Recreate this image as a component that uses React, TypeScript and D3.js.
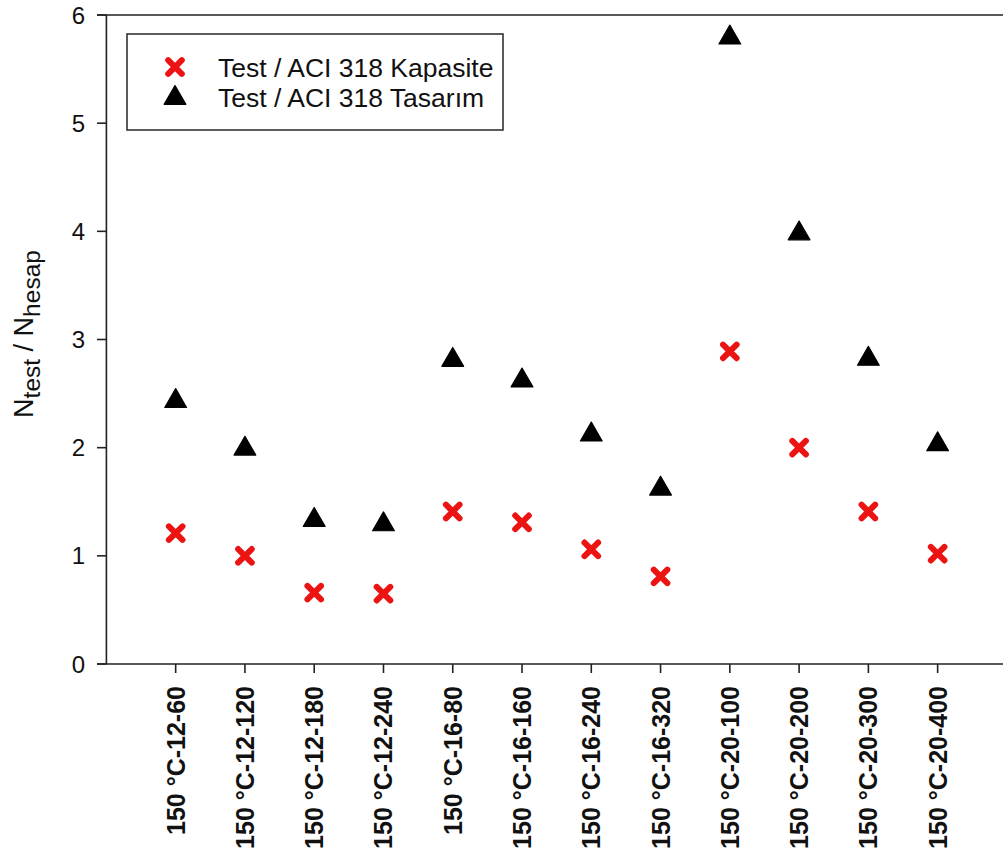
import React from "react";
import * as d3 from "d3";

const categories = [
  "150 °C-12-60", "150 °C-12-120", "150 °C-12-180", "150 °C-12-240",
  "150 °C-16-80", "150 °C-16-160", "150 °C-16-240", "150 °C-16-320",
  "150 °C-20-100", "150 °C-20-200", "150 °C-20-300", "150 °C-20-400",
];
const kapasite = [1.21, 1.0, 0.66, 0.65, 1.41, 1.31, 1.06, 0.81, 2.89, 2.0, 1.41, 1.02];
const tasarim = [2.43, 1.99, 1.33, 1.29, 2.81, 2.62, 2.12, 1.62, 5.79, 3.98, 2.82, 2.03];
const yTicks = [0, 1, 2, 3, 4, 5, 6];
const legendLabels = ["Test / ACI 318 Kapasite", "Test / ACI 318 Tasarım"];

const W = 1003, H = 860;
const left = 106.4, top = 15, bottom = 664;
const step = 69.27;
const x = d3.scaleLinear().domain([0, 13]).range([left, left + 13 * step]);
const y = d3.scaleLinear().domain([0, 6]).range([bottom, top]);
const FONT = "'Liberation Sans', Arial, sans-serif";
const RED = "#ec1313";
const triPath = d3.symbol(d3.symbolTriangle, 205)() as string;

function XMark({ cx, cy }: { cx: number; cy: number }) {
  const a = 6.8;
  return (
    <path
      d={`M${cx - a},${cy - a}L${cx + a},${cy + a}M${cx - a},${cy + a}L${cx + a},${cy - a}`}
      stroke={RED}
      strokeWidth={6}
      strokeLinecap="round"
      fill="none"
    />
  );
}

function Tri({ cx, cy }: { cx: number; cy: number }) {
  return (
    <path d={triPath} transform={`translate(${cx},${cy})`} fill="#000" stroke="#000" strokeWidth={1.2} strokeLinejoin="round" />
  );
}

export default function App() {
  const xRight = x(13);
  return (
    <svg width={W} height={H} style={{ position: "absolute", left: 0, top: 0, background: "#fff" }} fontFamily={FONT}>
      <rect width={W} height={H} fill="#fff" />
      {/* frame */}
      <line x1={97} x2={xRight} y1={y(6)} y2={y(6)} stroke="#222" strokeWidth={1.6} />
      <line x1={97} x2={xRight} y1={y(0)} y2={y(0)} stroke="#222" strokeWidth={1.6} />
      <line x1={left} x2={left} y1={y(6)} y2={y(0)} stroke="#222" strokeWidth={1.6} />
      <line x1={xRight} x2={xRight} y1={y(6)} y2={y(0)} stroke="#222" strokeWidth={1.6} />
      {/* y ticks */}
      {yTicks.map((t) => (
        <g key={t}>
          <line x1={97} x2={left} y1={y(t)} y2={y(t)} stroke="#222" strokeWidth={1.6} />
          <text x={85} y={y(t)} dy="0.36em" textAnchor="end" fontSize={24} fill="#111">{t}</text>
        </g>
      ))}
      {/* x ticks */}
      {categories.map((c, i) => (
        <g key={c}>
          <line x1={x(i + 1)} x2={x(i + 1)} y1={bottom} y2={bottom + 9} stroke="#222" strokeWidth={1.6} />
          <text
            transform={`translate(${x(i + 1)},686) rotate(-90)`}
            dy="0.36em"
            textAnchor="end"
            fontSize={25}
            fontWeight="bold"
            fill="#111"
          >
            {c}
          </text>
        </g>
      ))}
      {/* y label */}
      <text transform="translate(33,334) rotate(-90)" textAnchor="middle" fontSize={27} fill="#111">
        N<tspan fontSize={24.5} dy={7}>test</tspan>
        <tspan dy={-7}> / N</tspan>
        <tspan fontSize={24.5} dy={7}>hesap</tspan>
      </text>
      {/* data */}
      {tasarim.map((v, i) => (
        <Tri key={"t" + i} cx={x(i + 1)} cy={y(v)} />
      ))}
      {kapasite.map((v, i) => (
        <XMark key={"k" + i} cx={x(i + 1)} cy={y(v)} />
      ))}
      {/* legend */}
      <rect x={127} y={34} width={376} height={96} fill="#fff" stroke="#333" strokeWidth={1.6} />
      <XMark cx={175} cy={67} />
      <Tri cx={175} cy={98} />
      <text x={218} y={67} dy="0.36em" fontSize={26.5} fill="#111">{legendLabels[0]}</text>
      <text x={218} y={97} dy="0.36em" fontSize={26.5} fill="#111">{legendLabels[1]}</text>
    </svg>
  );
}
